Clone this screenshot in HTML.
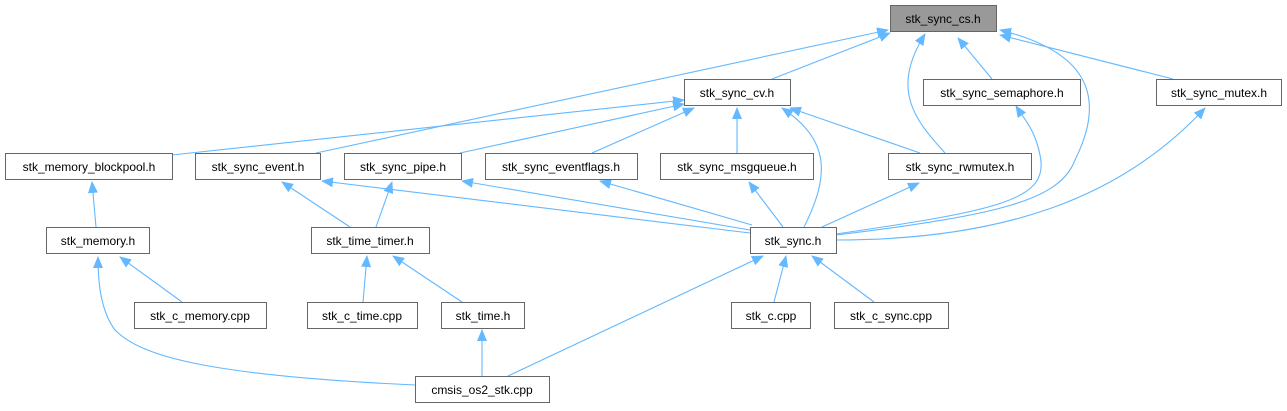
<!DOCTYPE html>
<html><head><meta charset="utf-8"><style>
body{margin:0;background:#fff;width:1287px;height:411px;overflow:hidden}
svg{display:block}
text{font-family:"Liberation Sans",sans-serif;font-size:12px;fill:#000}
</style></head><body>
<svg width="1287" height="411" viewBox="0 0 1287 411">
<defs><marker id="a" markerWidth="12" markerHeight="10" refX="11" refY="5" orient="auto" markerUnits="userSpaceOnUse"><path d="M0,0 L12,5 L0,10 Z" fill="#63b8ff"/></marker></defs>
<g fill="none" stroke="#63b8ff" stroke-width="1.1" marker-end="url(#a)">
<path d="M772,79 L890,33"/>
<path d="M316,153 L888,30"/>
<path d="M945,153 C915,120 890,90 925,34"/>
<path d="M992,79 L958,38"/>
<path d="M1173,79 L1000,35"/>
<path d="M836,235 C1000,215 1060,200 1075,160 C1110,90 1080,50 1000,30"/>
<path d="M172,155 L684,100"/>
<path d="M460,153 L684,104"/>
<path d="M592,153 L694,108"/>
<path d="M737,153 L737,108"/>
<path d="M804,227 C830,175 830,140 782,108"/>
<path d="M920,153 L790,108"/>
<path d="M96,227 L92,182"/>
<path d="M350,227 L282,182"/>
<path d="M750,233 L322,181"/>
<path d="M376,227 L392,182"/>
<path d="M750,230 L462,181"/>
<path d="M752,225 L600,181"/>
<path d="M783,227 L749,182"/>
<path d="M822,227 L919,183"/>
<path d="M836,234 C1000,210 1050,200 1040,155 C1035,130 1025,120 1016,106"/>
<path d="M836,240 C1000,240 1120,200 1205,108"/>
<path d="M182,302 L120,257"/>
<path d="M415,385 C200,375 140,355 115,330 C100,310 98,280 98,257"/>
<path d="M363,302 L367,256"/>
<path d="M462,302 L393,256"/>
<path d="M482,376 L482,330"/>
<path d="M508,376 L763,256"/>
<path d="M774,302 L786,256"/>
<path d="M874,302 L812,256"/>
</g>
<g stroke="#666" stroke-width="1" fill="#fff">
<rect x="890.5" y="5.5" width="106" height="26" fill="#999"/>
<rect x="684.5" y="79.5" width="106" height="26"/>
<rect x="923.5" y="79.5" width="157" height="26"/>
<rect x="1156.5" y="79.5" width="125" height="26"/>
<rect x="5.5" y="153.5" width="167" height="26"/>
<rect x="195.5" y="153.5" width="125" height="26"/>
<rect x="344.5" y="153.5" width="117" height="26"/>
<rect x="485.5" y="153.5" width="152" height="26"/>
<rect x="660.5" y="153.5" width="153" height="26"/>
<rect x="888.5" y="153.5" width="143" height="26"/>
<rect x="46.5" y="227.5" width="103" height="26"/>
<rect x="311.5" y="227.5" width="118" height="26"/>
<rect x="750.5" y="227.5" width="86" height="26"/>
<rect x="134.5" y="302.5" width="132" height="26"/>
<rect x="307.5" y="302.5" width="110" height="26"/>
<rect x="441.5" y="302.5" width="83" height="26"/>
<rect x="731.5" y="302.5" width="79" height="26"/>
<rect x="834.5" y="302.5" width="114" height="26"/>
<rect x="415.5" y="376.5" width="134" height="26"/>
</g>
<g text-anchor="middle">
<text x="943" y="23">stk_sync_cs.h</text>
<text x="737" y="97">stk_sync_cv.h</text>
<text x="1002" y="97">stk_sync_semaphore.h</text>
<text x="1219" y="97">stk_sync_mutex.h</text>
<text x="89" y="171">stk_memory_blockpool.h</text>
<text x="258" y="171">stk_sync_event.h</text>
<text x="403" y="171">stk_sync_pipe.h</text>
<text x="561" y="171">stk_sync_eventflags.h</text>
<text x="737" y="171">stk_sync_msgqueue.h</text>
<text x="960" y="171">stk_sync_rwmutex.h</text>
<text x="98" y="245">stk_memory.h</text>
<text x="370" y="245">stk_time_timer.h</text>
<text x="793" y="245">stk_sync.h</text>
<text x="200" y="320">stk_c_memory.cpp</text>
<text x="362" y="320">stk_c_time.cpp</text>
<text x="483" y="320">stk_time.h</text>
<text x="771" y="320">stk_c.cpp</text>
<text x="891" y="320">stk_c_sync.cpp</text>
<text x="482" y="394">cmsis_os2_stk.cpp</text>
</g>
</svg>
</body></html>
